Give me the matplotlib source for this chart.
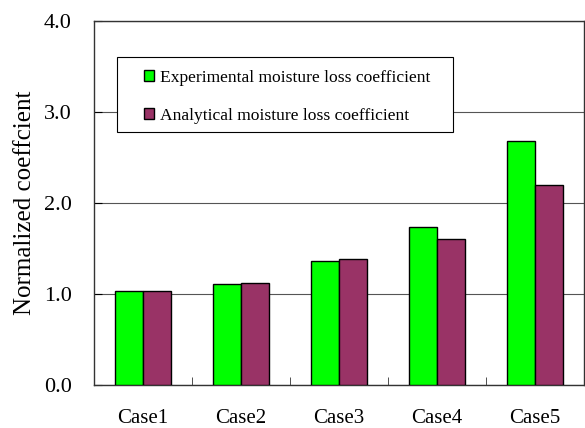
import numpy as np
import matplotlib.pyplot as plt
from matplotlib.patches import Rectangle

plt.rcParams['font.family'] = ['Liberation Serif', 'DejaVu Serif']

cases = ['Case1', 'Case2', 'Case3', 'Case4', 'Case5']
experimental = [1.03, 1.11, 1.36, 1.74, 2.68]
analytical = [1.03, 1.12, 1.39, 1.60, 2.20]
yticks = [0.0, 1.0, 2.0, 3.0, 4.0]

fig = plt.figure(figsize=(5.85, 4.28), dpi=100)
ax = fig.add_axes([94 / 585, 1 - 385 / 428, 490 / 585, 364 / 428])

x = np.arange(len(cases))
w = 0.285
ax.bar(x - w / 2, experimental, w, color='#00ff00', edgecolor='black',
       linewidth=1.0, label='Experimental moisture loss coefficient', zorder=3)
ax.bar(x + w / 2, analytical, w, color='#993366', edgecolor='black',
       linewidth=1.0, label='Analytical moisture loss coefficient', zorder=3)

ax.set_xlim(-0.5, len(cases) - 0.5)
ax.set_ylim(0, 4)
ax.set_yticks(yticks)
ax.set_yticklabels(['%.1f' % v for v in yticks], fontsize=16)
ax.yaxis.grid(True, color='#555555', linewidth=0.8, zorder=0)

# category labels centred, ticks sit on category boundaries
ax.set_xticks(x)
ax.set_xticklabels(cases, fontsize=15)
ax.tick_params(axis='x', length=0, pad=17)
ax.set_xticks(np.arange(len(cases) + 1) - 0.5, minor=True)
ax.tick_params(axis='x', which='minor', direction='in', length=6,
               color='#333333')
ax.tick_params(axis='y', direction='in', length=6, pad=16)

ax.set_ylabel('Normalized coeffcient', fontsize=18)
ax.yaxis.set_label_coords(-0.118, 0.5)

for s in ax.spines.values():
    s.set_color('#333333')
    s.set_linewidth(1.0)

# legend box drawn separately so the entries can sit with a wide left margin
box = Rectangle((0.047, 0.695), 0.686, 0.206, transform=ax.transAxes,
                facecolor='white', edgecolor='black', linewidth=0.8, zorder=4)
ax.add_patch(box)
leg = ax.legend(loc='upper left', bbox_to_anchor=(0.102, 0.866),
                fontsize=12.6, frameon=False, handlelength=0.57,
                handleheight=0.57, handletextpad=0.34, labelspacing=1.25,
                borderpad=0, borderaxespad=0)
leg.set_zorder(5)

fig.savefig('out.png', dpi=100)
